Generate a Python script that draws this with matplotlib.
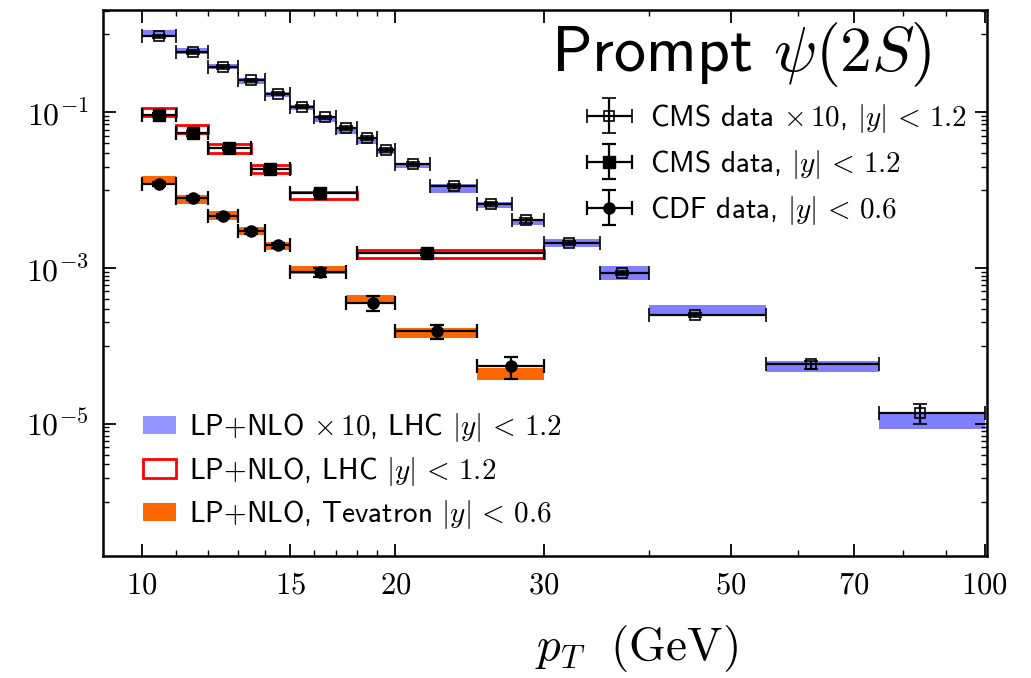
import matplotlib
matplotlib.use('Agg')
import matplotlib.pyplot as plt
import matplotlib.ticker as ticker
from matplotlib.patches import Patch
from matplotlib.legend_handler import HandlerErrorbar
import numpy as np

plt.rcParams['font.family'] = ['cmss10', 'DejaVu Sans']
plt.rcParams['mathtext.fontset'] = 'cm'
plt.rcParams['axes.unicode_minus'] = False

# ── CMS prompt psi(2S), |y| < 1.2, scaled by 10 ──────────────
cms10_lo = [10, 11, 12, 13, 14, 15, 16, 17, 18, 19, 20, 22, 25, 27.5, 30, 35, 40, 55, 75]
cms10_hi = [11, 12, 13, 14, 15, 16, 17, 18, 19, 20, 22, 25, 27.5, 30, 35, 40, 55, 75, 100]
cms10_pt = [10.5, 11.5, 12.5, 13.5, 14.5, 15.5, 16.5, 17.5, 18.5, 19.5,
            21.0, 23.5, 26.0, 28.6, 32.1, 37.1, 45.3, 62.2, 83.7]
cms10_val = [0.951, 0.598, 0.385, 0.257, 0.173, 0.118, 0.0863, 0.0629, 0.0464, 0.0332,
             0.0216, 0.01146, 0.00668, 0.00408, 0.00209, 0.000863, 0.000252, 5.76e-5, 1.38e-5]
cms10_err = [0.04, 0.03, 0.02, 0.012, 0.008, 0.006, 0.0045, 0.0035, 0.0026, 0.002,
             0.0013, 0.0007, 0.0004, 0.00028, 0.00014, 6e-5, 1.5e-5, 7e-6, 3.9e-6]
# LP+NLO x 10, LHC band
th10_min = [0.915, 0.554, 0.359, 0.233, 0.156, 0.106, 0.0751, 0.0532, 0.0392, 0.0292,
            0.0191, 0.00931, 0.00588, 0.00359, 0.00186, 0.000708, 0.000252, 4.59e-5, 8.45e-6]
th10_max = [1.135, 0.661, 0.420, 0.273, 0.184, 0.124, 0.0889, 0.0629, 0.0464, 0.0346,
            0.0226, 0.01205, 0.00714, 0.00429, 0.00236, 0.00107, 0.000338, 6.48e-5, 1.32e-5]

# ── CMS prompt psi(2S), |y| < 1.2 ─────────────────────────────
cms_lo = [10, 11, 12, 13.5, 15, 18]
cms_hi = [11, 12, 13.5, 15, 18, 30]
cms_pt = [10.5, 11.5, 12.7, 14.2, 16.3, 21.8]
cms_val = [0.0923, 0.0538, 0.0346, 0.0189, 0.00916, 0.00158]
cms_err = [0.006, 0.004, 0.002, 0.0011, 0.0005, 0.0001]
# LP+NLO, LHC band
th_lhc_min = [0.0897, 0.0548, 0.0303, 0.0168, 0.00767, 0.00134]
th_lhc_max = [0.1146, 0.0681, 0.0389, 0.0209, 0.00942, 0.00168]

# ── CDF prompt psi(2S), |y| < 0.6 ─────────────────────────────
cdf_lo = [10, 11, 12, 13, 14, 15, 17.5, 20, 25]
cdf_hi = [11, 12, 13, 14, 15, 17.5, 20, 25, 30]
cdf_pt = [10.5, 11.5, 12.5, 13.5, 14.5, 16.3, 18.8, 22.4, 27.4]
cdf_val = [0.01194, 0.00797, 0.00469, 0.00295, 0.00195, 0.000879, 0.000356, 0.000154, 5.47e-5]
cdf_err = [0.0008, 0.0005, 0.0003, 0.0002, 0.00015, 0.00012, 7.5e-5, 3.2e-5, 1.75e-5]
# LP+NLO, Tevatron band
th_tev_min = [0.0117, 0.00668, 0.00416, 0.00267, 0.00168, 0.000845, 0.000356, 0.000127, 3.62e-5]
th_tev_max = [0.01525, 0.00871, 0.00543, 0.00332, 0.00213, 0.00105, 0.000446, 0.000170, 5.22e-5]

xticks = [10, 15, 20, 30, 50, 70, 100]
xtick_labels = [r'$10$', r'$15$', r'$20$', r'$30$', r'$50$', r'$70$', r'$100$']
yticks = [1e-5, 1e-3, 1e-1]
ytick_labels = [r'$10^{-5}$', r'$10^{-3}$', r'$10^{-1}$']

c_blue = '#8080ff'
c_red = '#ff0000'
c_orange = '#ff6600'

fig = plt.figure(figsize=(10.31, 6.78), dpi=100)
ax = fig.add_axes([0.0999, 0.18, 0.857, 0.805])
ax.set_xscale('log')
ax.set_yscale('log')


def band(lo, hi, ymin, ymax, **kw):
    lo, hi = np.array(lo), np.array(hi)
    ymin, ymax = np.array(ymin), np.array(ymax)
    ax.bar(lo, ymax - ymin, width=hi - lo, bottom=ymin, align='edge', **kw)


band(cms10_lo, cms10_hi, th10_min, th10_max, color=c_blue, linewidth=0, zorder=1)
band(cdf_lo, cdf_hi, th_tev_min, th_tev_max, color=c_orange, linewidth=0, zorder=1)
band(cms_lo, cms_hi, th_lhc_min, th_lhc_max, facecolor='none', edgecolor=c_red,
     linewidth=2.0, zorder=2)


def data(pt, lo, hi, val, err, **kw):
    pt = np.array(pt)
    xerr = [pt - np.array(lo), np.array(hi) - pt]
    return ax.errorbar(pt, val, xerr=xerr, yerr=err, color='k', ecolor='k',
                       elinewidth=1.6, capsize=5, capthick=1.6, linestyle='none',
                       zorder=4, **kw)


h_cms10 = data(cms10_pt, cms10_lo, cms10_hi, cms10_val, cms10_err,
               marker='s', ms=7, mfc='none', mec='k', mew=1.2)
h_cms = data(cms_pt, cms_lo, cms_hi, cms_val, cms_err, marker='s', ms=9, mfc='k', mec='k')
h_cdf = data(cdf_pt, cdf_lo, cdf_hi, cdf_val, cdf_err, marker='o', ms=8, mfc='k', mec='k')

ax.set_xlim(9.0, 100.5)
ax.set_ylim(2e-7, 2.05)

ax.xaxis.set_major_locator(ticker.FixedLocator(xticks))
ax.xaxis.set_major_formatter(ticker.FixedFormatter(xtick_labels))
ax.xaxis.set_minor_locator(ticker.FixedLocator([11, 12, 13, 14, 16, 17, 18, 19, 40, 60, 80, 90]))
ax.xaxis.set_minor_formatter(ticker.NullFormatter())
ax.yaxis.set_major_locator(ticker.FixedLocator(yticks))
ax.yaxis.set_major_formatter(ticker.FixedFormatter(ytick_labels))
ax.yaxis.set_minor_locator(ticker.FixedLocator(
    [k * 10.0 ** e for e in (-6, -4, -2) for k in range(1, 10)] + [1.0, 2.0]))
ax.yaxis.set_minor_formatter(ticker.NullFormatter())

ax.tick_params(which='both', direction='in', top=True, right=True)
ax.tick_params(which='major', length=9, width=1.3)
ax.tick_params(which='minor', length=4, width=1.0)
ax.tick_params(axis='x', which='major', labelsize=22, pad=12)
ax.tick_params(axis='y', which='major', labelsize=23, pad=10)
for s in ax.spines.values():
    s.set_linewidth(1.8)

ax.set_xlabel(r'$p_T\ \ \mathrm{(GeV)}$', fontsize=34)
ax.xaxis.set_label_coords(0.604, -0.122)

ax.text(0.938, 0.918, r'Prompt $\psi(2S)$', transform=ax.transAxes,
        ha='right', va='center', fontsize=46)

leg_data = ax.legend([h_cms10, h_cms, h_cdf],
                     [r'CMS data $\times\,10$, $|y|\,<\,1.2$',
                      r'CMS data, $|y|\,<\,1.2$',
                      r'CDF data, $|y|\,<\,0.6$'],
                     handler_map={type(h_cms10): HandlerErrorbar(xerr_size=0.78, yerr_size=0.6)},
                     loc='upper right', bbox_to_anchor=(0.978, 0.832), frameon=False,
                     fontsize=21, handlelength=1.6, handletextpad=0.6,
                     labelspacing=0.45, borderpad=0, borderaxespad=0)
ax.add_artist(leg_data)

th_handles = [Patch(facecolor='#9494ff', edgecolor='none'),
              Patch(facecolor='none', edgecolor=c_red, linewidth=2),
              Patch(facecolor=c_orange, edgecolor='none')]
ax.legend(th_handles,
          [r'LP+NLO $\times\,10$, LHC $|y|\,<\,1.2$',
           r'LP+NLO, LHC $|y|\,<\,1.2$',
           r'LP+NLO, Tevatron $|y|\,<\,0.6$'],
          loc='lower left', bbox_to_anchor=(0.045, 0.045), frameon=False,
          fontsize=21, handlelength=1.15, handleheight=0.6, handletextpad=0.45,
          labelspacing=0.36, borderpad=0, borderaxespad=0)

fig.savefig('out.png', dpi=100, facecolor='white')
